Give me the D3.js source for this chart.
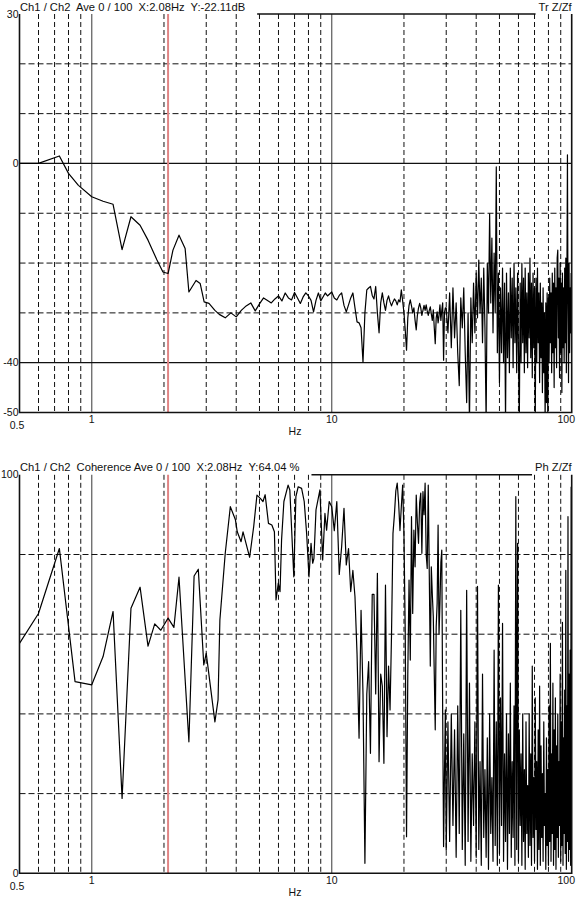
<!DOCTYPE html>
<html>
<head>
<meta charset="utf-8">
<script src="https://cdn.jsdelivr.net/npm/d3@7"></script>
<style>
  body { margin: 0; background: #fff; }
  text { font-family: "Liberation Sans", Arial, sans-serif; fill: #111; }
</style>
</head>
<body>
<script>
// ---- data ----
// transfer function, dB ; low range as [Hz, dB] pairs
const trLow = [[0.5,0],[0.6,0],[0.733,1.5],[0.8,-2.0],[0.88,-4.4],[1.0,-6.7],[1.115,-7.6],[1.227,-8.2],
  [1.338,-17.3],[1.457,-10.7],[1.59,-12.4],[1.716,-15.4],[1.87,-19.4],[1.98,-21.8],[2.08,-22.1],[2.18,-17.4],
  [2.31,-14.4],[2.45,-17.1],[2.54,-25.8],[2.72,-23.5],[2.83,-24.1],[2.94,-27.8],[3.08,-28.1],[3.26,-29.5]];
// 3.4 .. 9.8 Hz, 0.2 Hz bins
const trMid = [-30.3,-31,-30,-30.8,-29.5,-28.6,-28,-29.6,-28.2,-27,-27.5,-28,-27.2,-26.6,-27.6,-26,-27,
  -27.4,-25.9,-27,-28.1,-26.8,-26,-26.6,-27.5,-29.8,-27.5,-26,-27.6,-26.8,-26,-26.6,-26.2];
// 10 .. 29.75 Hz, 0.25 Hz bins
const trHigh = [-25.8,-27,-27.4,-26.5,-26,-28.5,-29.8,-28.4,-27,-26,
  -29,-31.8,-32,-33,-39.9,-30,-25.4,-25,-24.7,-26.5,
  -27.2,-24.7,-30,-34,-28,-26,-28,-29.5,-27.5,-26.6,
  -27.8,-28.6,-27.8,-27.2,-27.6,-28.4,-27.4,-27.8,-25.4,-27.6,
  -30,-33.5,-37.5,-31,-28.5,-27.4,-28.6,-30,-29,-31.5,
  -33.4,-30.5,-29,-28.1,-29,-30.5,-29.5,-28.5,-29.5,-28.4,
  -29.6,-30.5,-29.5,-28.8,-30.2,-31.5,-29.4,-33,-36.2,-31,
  -29.8,-32,-30.5,-28.4,-31.5,-29.5,-28,-39.5,-30,-29];
// 30 .. 99.5 Hz, 0.5 Hz bins
const trTop = [-29,-34,-26,-37,-25,-35,-28,-38,-44.6,-27,
  -33,-25,-38,-48,-30,-52,-27,-36,-24,-34,
  -22,-31,-19.4,-30,-23,-36,-21,-33,-52,-20,
  -30,-10.1,-28,-15,-34,-18,-30,-0.7,-38,-22,
  -44,-25,-38,-21,-40,-24,-52,-22,-39,-26,
  -42,-21,-35,-23,-41,-20,-36,-25,-42,-22,
  -38,-52,-24,-40,-20,-36,-23,-42,-21,-38,
  -26,-41,-22,-35,-19,-39,-24,-43,-22,-37,
  -25,-52,-23,-40,-21,-36,-26,-44,-24,-39,
  -28,-46,-25,-42,-30,-52,-28,-48,-26,-52,
  -27,-40,-23,-36,-26,-42,-22,-38,-24,-45,
  -21,-37,-25,-41,-19,-17.4,-35,-23,-43,-20,
  -38,-24,-46,-22,-37,-25,-40,-21,-36,-19,
  -42,-24,1.7,-28,-44,-20,-38,-25,-34,-22];

// coherence, % ; low range as [Hz, %] pairs
const cohLow = [[0.5,57.7],[0.6,65.2],[0.733,81.5],[0.852,48.1],[1.0,47.3],[1.115,54.4],[1.227,65.7],
  [1.338,18.8],[1.457,66.5],[1.59,71.8],[1.716,57],[1.83,62.6],[1.94,61],[2.08,64.04],[2.2,61.7],[2.31,74.3],
  [2.54,33],[2.67,74.6],[2.78,76.3],[2.93,52.3],[3.0,55.2],[3.26,38],[3.36,43.5],[3.42,63.6],[3.6,80.3],
  [3.78,92],[3.97,88.7],[4.04,85.7],[4.19,83.2],[4.27,85.7],[4.55,79.3],[4.73,87],[4.88,94.9],[5.04,94.1],
  [5.17,93.3],[5.28,95],[5.45,87.8],[5.63,87.4],[5.77,85.7],[5.86,68.6],[5.99,72.8],[6.09,70.7],[6.18,83.6],
  [6.32,93.3],[6.58,97.4],[6.69,96.2],[6.95,74.4],[7.09,94.5],[7.25,97],[7.49,96.6],[7.68,93.3],[7.86,85.3],
  [8.04,74.4],[8.2,82.8],[8.33,77.8],[8.43,79],[8.6,91.2],[8.93,96.2],[9.17,78.6],[9.37,90.3],[9.52,86.1],[9.76,93.3]];
// 10 .. 29.75 Hz, 0.25 Hz bins
const cohHigh = [92,86,93.3,75,82,91.6,77.4,81.5,70.7,76,
  69.4,55,33.9,66,45,2.5,45,53.1,30.1,70,
  70,45,75.3,28,50,47,27.6,72.3,34.3,52,
  41,60,85.3,90,96,97.9,93,86,92,97.4,
  85,60,9.2,50,73.6,53.5,89.5,65.2,86.1,76.9,
  94.9,88,82.8,93,95.4,80.3,95.8,90,97.9,80,
  76.5,97.4,75,52,76.9,70,64.4,50,36,62,
  67.8,87.4,60,67.8,78,81.1,40,6.7,25,41];
// 30 .. 99.5 Hz, 0.5 Hz bins
const cohTop = [5.8,38,8,40,12,36,4,42,10,66,
  6,35,2,71,8,47.7,3,30,12,38,
  4,72,6,28,2,50,9,26,4,34,
  1,40,10,24,3,56,7,38,2,72.3,
  5,44,12,62.7,3,30,8,40,1,35,
  10,47.7,4,28,9,42,2,94.5,6,82.8,
  3,36,12,30,2,40,8,26,1,38,
  10,22,4,40,7,30,2,52,9,24,
  3,44,11,28,1,36,6,47,2,32,
  9,25,3,38,12,20,1,34,7,26,
  2,42,8,57.7,3,30,10,47.7,2,36,
  6,44,1,32,9,40,4,28,12,50,
  3,38,7,63,2,34,10,46,5,76,
  1,42,8,89.5,3,50,6,56,2,97];

const cursorHz = 2.08;
const xLabels = [0.5, 1, 10, 100];
const trYLabels = [30, 0, -40, -50];
const trSolid = [0, -40];
const cohYLabels = [100, 0];

// ---- layout ----
const W = 579, H = 899;
const plotL = 19.5, plotR = 571.7, plotH = 398.5;

function buildSeries(low, segs){
  let pts = low.slice();
  segs.forEach(s=>{
    s.values.forEach((v,i)=>{ pts.push([s.start + i*s.step, v]); });
  });
  return pts;
}

const trData = buildSeries(trLow, [
  {start:3.4, step:0.2, values:trMid},
  {start:10, step:0.25, values:trHigh},
  {start:30, step:0.5, values:trTop}]);
const cohData = buildSeries(cohLow, [
  {start:10, step:0.25, values:cohHigh},
  {start:30, step:0.5, values:cohTop}]);

const svg = d3.select("body").append("svg").attr("width", W).attr("height", H);
const x = d3.scaleLog().domain([0.5, 100]).range([plotL, plotR]);

function isDecade(t){ return Math.abs(Math.log10(t) - Math.round(Math.log10(t))) < 1e-9; }

function drawPanel(p){
  let g = svg.append("g");
  let top = p.top, bottom = p.top + plotH;
  let y = d3.scaleLinear().domain(p.yDomain).range([bottom, top]);

  g.append("clipPath").attr("id", p.id).append("rect")
    .attr("x", plotL).attr("y", top).attr("width", plotR-plotL).attr("height", plotH);

  // vertical grid
  x.ticks().filter(t=> t>0.5+1e-9 && t<100-1e-9).forEach(t=>{
    let dec = isDecade(t);
    g.append("line")
      .attr("x1", x(t)).attr("x2", x(t)).attr("y1", top).attr("y2", bottom)
      .attr("stroke", dec ? "#666" : "#111")
      .attr("stroke-width", dec ? 1.3 : 1)
      .attr("stroke-dasharray", dec ? null : "5,3");
  });

  // horizontal grid
  d3.range(p.yDomain[0]+p.yStep, p.yDomain[1], p.yStep).forEach(v=>{
    let solid = p.solid.includes(v);
    g.append("line")
      .attr("x1", plotL).attr("x2", plotR).attr("y1", y(v)).attr("y2", y(v))
      .attr("stroke", "#111")
      .attr("stroke-width", solid ? 1.3 : 1)
      .attr("stroke-dasharray", solid ? null : "6,3");
  });

  // cursor
  g.append("line")
    .attr("x1", x(cursorHz)).attr("x2", x(cursorHz)).attr("y1", top).attr("y2", bottom)
    .attr("stroke", "#e08585").attr("stroke-width", 2);

  // trace
  let line = d3.line().x(d=>x(d[0])).y(d=>y(d[1]));
  g.append("path")
    .datum(p.data)
    .attr("clip-path", "url(#"+p.id+")")
    .attr("fill", "none")
    .attr("stroke", "#000")
    .attr("stroke-width", 1.2)
    .attr("stroke-linejoin", "round")
    .attr("d", line);

  // title texts
  let title = g.append("text").attr("x", 20).attr("y", top-3.5)
    .style("font-size", "11.2px").style("white-space", "pre").text(p.title);
  let right = g.append("text").attr("x", plotR).attr("y", top-3.5).attr("text-anchor", "end")
    .style("font-size", "11.2px").style("white-space", "pre").text(p.label);
  let tEnd = 20 + title.node().getComputedTextLength() + 12;
  let rStart = plotR - right.node().getComputedTextLength() - 3;

  // frame
  g.append("line").attr("x1", tEnd).attr("x2", rStart).attr("y1", top).attr("y2", top)
    .attr("stroke", "#111").attr("stroke-width", 1.6);
  g.append("path")
    .attr("d", "M"+plotL+","+top+"V"+bottom+"H"+plotR+"V"+top)
    .attr("fill", "none").attr("stroke", "#111").attr("stroke-width", 1.6);

  // y labels
  p.yLabels.forEach(v=>{
    g.append("text").attr("x", 18.5).attr("y", y(v)+3.6).attr("text-anchor", "end")
      .style("font-size", "10.5px").text(v);
  });

  // x labels
  xLabels.forEach(v=>{
    let lx = x(v), ly = bottom + 10.5, anchor = "middle";
    if (v === 0.5){ lx = 17; ly = bottom + 16.5; }
    if (v === 100){ lx = 575; anchor = "end"; }
    g.append("text").attr("x", lx).attr("y", ly).attr("text-anchor", anchor)
      .style("font-size", "10.5px").text(v);
  });
  g.append("text").attr("x", 295).attr("y", bottom + 22.5).attr("text-anchor", "middle")
    .style("font-size", "10.5px").text("Hz");
}

drawPanel({
  id: "clipTr", top: 14, yDomain: [-50, 30], yStep: 10, solid: trSolid,
  yLabels: trYLabels, data: trData,
  title: "Ch1 / Ch2  Ave 0 / 100  X:2.08Hz  Y:-22.11dB", label: "Tr Z/Zf"
});
drawPanel({
  id: "clipCoh", top: 474.8, yDomain: [0, 100], yStep: 20, solid: [],
  yLabels: cohYLabels, data: cohData,
  title: "Ch1 / Ch2  Coherence Ave 0 / 100  X:2.08Hz  Y:64.04 %", label: "Ph Z/Zf"
});
</script>
</body>
</html>
